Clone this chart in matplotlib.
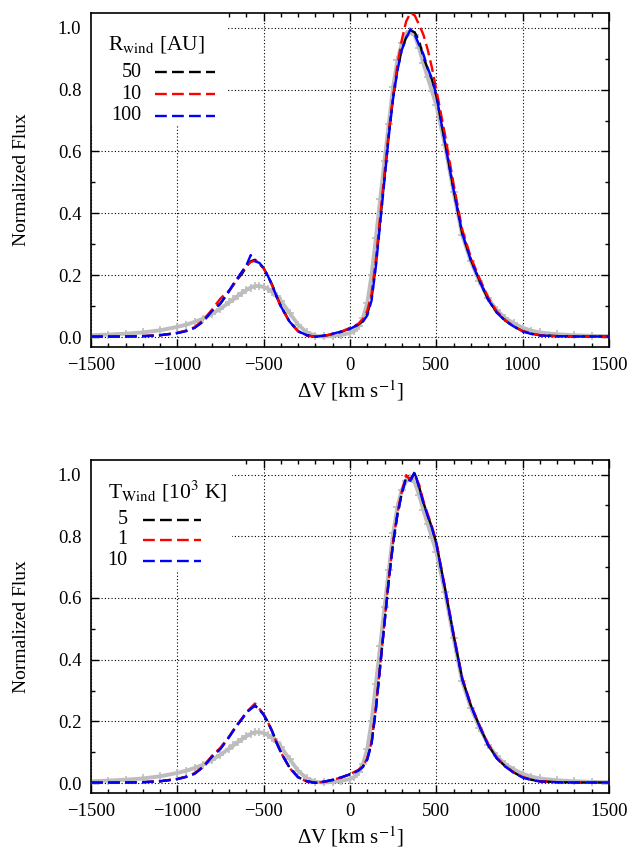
import matplotlib
matplotlib.use('Agg')
import matplotlib.pyplot as plt
import matplotlib.patches as mpatches
from matplotlib.ticker import MultipleLocator, FormatStrFormatter

plt.rcParams['font.family'] = 'Liberation Serif'
plt.rcParams['mathtext.fontset'] = 'stix'
plt.rcParams['font.size'] = 13

# velocity grid [km/s]
vel = [-1500, -1400, -1300, -1200, -1100, -1000,
       -950, -900, -850, -800, -750,
       -700, -675, -650, -625, -600, -575, -550, -525, -500, -475, -450, -425, -400,
       -350, -300, -250, -200, -150, -100, -50, 0,
       25, 50, 75, 100, 125, 150, 175, 200, 225, 250, 275, 300, 325, 350, 375, 400, 425, 450, 475, 500,
       550, 600, 650, 700, 750, 800, 850, 900, 950, 1000, 1050, 1100,
       1200, 1300, 1400, 1500]

# observed profile (grey)
obs = [.006, .008, .011, .015, .022, .033,
       .040, .049, .060, .075, .092,
       .112, .122, .133, .143, .152, .160, .165, .165, .162, .156, .146, .133, .117,
       .078, .040, .015, .004, .002, .004, .007, .013,
       .020, .035, .062, .110, .200, .320, .445, .570, .690, .810, .895, .950, .978, .988, .975, .935, .885, .840, .795, .750,
       .620, .470, .330, .245, .180, .125, .087, .061, .044, .030, .021, .015,
       .009, .006, .004, .003]

# top panel: R_wind = 50, 10, 100 AU
r50 = [.001, .001, .002, .003, .006, .013,
       .020, .030, .052, .085, .108,
       .148, .170, .188, .205, .228, .245, .250, .238, .222, .198, .168, .132, .100,
       .050, .019, .006, .001, .004, .010, .017, .028,
       .034, .041, .052, .075, .125, .235, .375, .515, .655, .775, .865, .930, .968, .992, .985, .958, .905, .868, .832, .780,
       .630, .478, .335, .250, .183, .122, .080, .053, .034, .019, .011, .006,
       .003, .002, .002, .002]
r10 = [.001, .001, .002, .003, .006, .014,
       .021, .032, .055, .088, .125,
       .150, .168, .190, .210, .232, .243, .247, .240, .222, .196, .165, .130, .098,
       .049, .018, .005, .001, .004, .010, .018, .030,
       .036, .044, .058, .085, .140, .250, .390, .530, .665, .780, .880, .960, 1.020, 1.048, 1.040, 1.010, .978, .930, .870, .800,
       .655, .495, .348, .258, .190, .128, .083, .055, .033, .020, .012, .006,
       .003, .002, .002, .002]
r100 = [.002, .002, .002, .003, .006, .013,
        .019, .030, .050, .084, .110,
        .150, .172, .192, .212, .232, .265, .245, .240, .223, .197, .167, .131, .099,
        .050, .019, .006, .001, .005, .011, .018, .026,
        .034, .040, .050, .070, .118, .228, .368, .508, .650, .772, .862, .928, .965, .995, .978, .945, .915, .870, .835, .782,
        .628, .476, .336, .248, .182, .121, .079, .052, .034, .018, .010, .005,
        .003, .002, .002, .002]

# bottom panel: T_wind = 5, 1, 10 (10^3 K)
t5 = [.001, .001, .002, .003, .006, .013,
      .020, .031, .053, .086, .112,
      .150, .170, .190, .208, .228, .242, .250, .240, .222, .198, .168, .132, .100,
      .050, .019, .006, .001, .004, .010, .018, .029,
      .035, .042, .054, .078, .130, .240, .380, .520, .660, .780, .872, .940, .992, .985, 1.003, .962, .910, .868, .828, .778,
      .632, .480, .338, .252, .185, .124, .081, .054, .034, .019, .011, .006,
      .003, .002, .002, .002]
t1 = [.001, .001, .002, .003, .006, .014,
      .021, .032, .054, .088, .115,
      .151, .172, .192, .210, .229, .244, .258, .241, .223, .197, .167, .131, .099,
      .049, .018, .005, .001, .004, .011, .018, .030,
      .036, .043, .055, .080, .132, .243, .383, .522, .662, .782, .875, .945, .998, .982, .998, .968, .915, .872, .832, .782,
      .636, .484, .342, .255, .188, .127, .083, .055, .034, .020, .011, .006,
      .003, .002, .002, .002]
t10 = [.002, .002, .002, .003, .006, .013,
       .020, .030, .052, .085, .111,
       .149, .171, .191, .209, .230, .240, .252, .239, .221, .196, .166, .130, .099,
       .050, .019, .006, .001, .005, .011, .019, .028,
       .034, .041, .052, .076, .128, .238, .378, .518, .658, .778, .870, .938, .988, .980, 1.010, .958, .908, .866, .826, .776,
       .630, .479, .337, .251, .184, .123, .080, .053, .033, .018, .010, .005,
       .003, .002, .002, .002]

top_models = [('50', r50, 'black'), ('10', r10, 'red'), ('100', r100, 'blue')]
bot_models = [('5', t5, 'black'), ('1', t1, 'red'), ('10', t10, 'blue')]

GREY = '#bdbdbd'
DASH = (5.0, 2.2)

fig = plt.figure(figsize=(6.35, 8.61), dpi=100)
ax_top = fig.add_axes([0.1433, 0.597, 0.8157, 0.388])
ax_bot = fig.add_axes([0.1433, 0.079, 0.8157, 0.387])


def draw_panel(ax, models, title, key_x, key_ys, line_x, box_w, box_h):
    ax.plot(vel, obs, color=GREY, lw=2.8, marker='+', ms=6, mew=1.2, zorder=2)
    for label, flux, color in models:
        ax.plot(vel, flux, color=color, lw=1.7, dashes=DASH, zorder=3)

    ax.set_xlim(-1500, 1500)
    ax.set_ylim(-0.032, 1.048)
    ax.xaxis.set_major_locator(MultipleLocator(500))
    ax.xaxis.set_minor_locator(MultipleLocator(100))
    ax.yaxis.set_major_locator(MultipleLocator(0.2))
    ax.yaxis.set_minor_locator(MultipleLocator(0.1))
    ax.yaxis.set_major_formatter(FormatStrFormatter('%.1f'))
    ax.tick_params(which='both', direction='in', top=True, right=True, labelsize=13.5)
    ax.tick_params(which='major', length=6, width=1.0, pad=7)
    ax.tick_params(which='minor', length=3, width=1.0)
    for sp in ax.spines.values():
        sp.set_linewidth(1.2)
    ax.grid(True, which='major', color='black', linestyle=(0, (1, 2)), lw=0.8)
    ax.set_axisbelow(True)
    ax.set_xlabel(r'ΔV [km s$^{-1}$]', fontsize=15, labelpad=3)
    ax.set_ylabel('Normalized Flux', fontsize=14, labelpad=20)

    # key with white background (gnuplot style)
    ax.add_patch(mpatches.Rectangle((0, 1 - box_h), box_w, box_h, transform=ax.transAxes,
                                    facecolor='white', edgecolor='none', zorder=1))
    ax.text(0.033, key_ys[0], title, transform=ax.transAxes, ha='left', va='center', fontsize=15.5, zorder=4)
    for (label, flux, color), ky in zip(models, key_ys[1:]):
        ax.text(key_x, ky, label, transform=ax.transAxes, ha='right', va='center', fontsize=14.5, zorder=4)
        ax.plot(line_x, [ky, ky], transform=ax.transAxes, color=color, lw=1.7, dashes=DASH, zorder=4)


draw_panel(ax_top, top_models, r'R$_{\mathrm{wind}}$ [AU]', 0.098,
           [0.905, 0.823, 0.757, 0.692], [0.124, 0.239], 0.263, 0.34)
draw_panel(ax_bot, bot_models, r'T$_{\mathrm{Wind}}$ [10$^3$ K]', 0.071,
           [0.905, 0.82, 0.76, 0.697], [0.10, 0.212], 0.272, 0.33)

fig.savefig('out.png', dpi=100)
plt.close()
